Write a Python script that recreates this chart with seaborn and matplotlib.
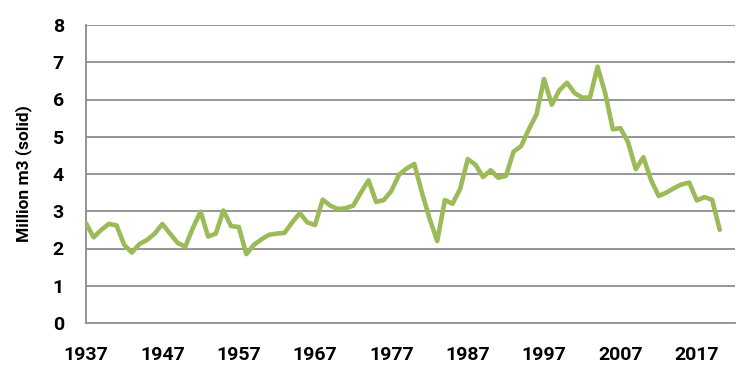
import matplotlib
matplotlib.use("Agg")
import matplotlib.pyplot as plt
import seaborn as sns
import pandas as pd

years = list(range(1937, 2021))
volumes = [
    2.68, 2.30, 2.50, 2.66, 2.62, 2.10, 1.89, 2.12, 2.23, 2.40,
    2.66, 2.40, 2.15, 2.05, 2.55, 2.99, 2.32, 2.40, 3.02, 2.60,
    2.58, 1.85, 2.10, 2.25, 2.37, 2.40, 2.42, 2.70, 2.95, 2.70,
    2.63, 3.31, 3.15, 3.06, 3.08, 3.15, 3.50, 3.83, 3.25, 3.30,
    3.55, 3.98, 4.15, 4.27, 3.50, 2.80, 2.20, 3.30, 3.20, 3.60,
    4.40, 4.25, 3.92, 4.10, 3.90, 3.95, 4.60, 4.75, 5.20, 5.60,
    6.55, 5.86, 6.25, 6.45, 6.17, 6.05, 6.05, 6.88, 6.17, 5.20,
    5.23, 4.85, 4.13, 4.45, 3.84, 3.41, 3.50, 3.62, 3.72, 3.77,
    3.29, 3.38, 3.31, 2.50,
]
tick_years = list(range(1937, 2023, 5))
label_years = list(range(1937, 2023, 10))
y_ticks = list(range(0, 9))
y_label = "Million m3 (solid)"

df = pd.DataFrame({"year": years, "volume": volumes})

sns.set_theme(style="white")
plt.rcParams["font.family"] = ["Roboto", "DejaVu Sans"]

fig = plt.figure(figsize=(7.5, 3.75), dpi=100)
ax = fig.add_axes([86 / 750, 1 - 323 / 375, (735 - 86) / 750, (323 - 25) / 375])

grid_c = "#8e8e8e"
for v in y_ticks[1:]:
    ax.axhline(v, color=grid_c, lw=1.3, zorder=1)

sns.lineplot(data=df, x="year", y="volume", ax=ax, color="#9bbb59", lw=3.3,
             zorder=3, solid_joinstyle="round", solid_capstyle="round")

ax.set_xlim(1937, 2022)
ax.set_ylim(0, 8)
ax.set_xticks(tick_years)
ax.set_xticklabels([str(t) if t in label_years else "" for t in tick_years])
ax.set_yticks(y_ticks)
ax.set_yticklabels([str(v) for v in y_ticks])

for side in ["top", "right"]:
    ax.spines[side].set_visible(False)
for side in ["left", "bottom"]:
    ax.spines[side].set_color(grid_c)
    ax.spines[side].set_linewidth(1.3)
    ax.spines[side].set_zorder(2)

ax.tick_params(axis="x", direction="inout", length=9, width=1.1, color=grid_c,
               pad=12, labelsize=14)
ax.tick_params(axis="y", direction="out", length=6, width=1.1, color=grid_c,
               pad=10, labelsize=14)
for lab in ax.get_xticklabels() + ax.get_yticklabels():
    lab.set_fontweight("bold")
    lab.set_color("black")

ax.set_xlabel("")
ax.set_ylabel(y_label, fontsize=12.5, fontweight="bold", color="black")
ax.yaxis.set_label_coords(-0.083, 0.5)
ax.grid(False)

fig.savefig("out.png", dpi=100)
